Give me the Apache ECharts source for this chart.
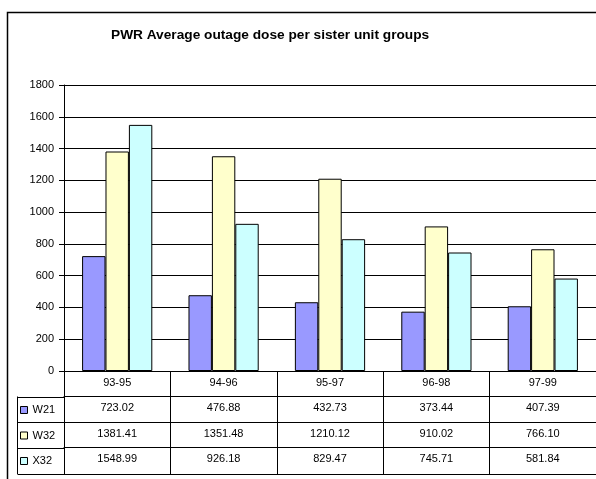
<!DOCTYPE html>
<html>
<head>
<meta charset="utf-8">
<script src="https://cdn.jsdelivr.net/npm/echarts@6/dist/echarts.min.js"></script>
<style>
html,body{margin:0;padding:0;background:#fff;}
#chart{width:596px;height:479px;}
</style>
</head>
<body>
<div id="chart"></div>
<script>
var categories = ['93-95', '94-96', '95-97', '96-98', '97-99'];
var seriesNames = ['W21', 'W32', 'X32'];
var w21 = [723.02, 476.88, 432.73, 373.44, 407.39];
var w32 = [1381.41, 1351.48, 1210.12, 910.02, 766.10];
var x32 = [1548.99, 926.18, 829.47, 745.71, 581.84];
var yTicks = [0, 200, 400, 600, 800, 1000, 1200, 1400, 1600, 1800];
var colors = ['#9999FF', '#FFFFCC', '#CCFFFF'];

var seriesData = [w21, w32, x32];
var FONT = 'Liberation Sans, Arial, sans-serif';
var LBL = 11;
var gridLeft = 64, gridTop = 85, gridW = 533, gridH = 286;
var rowH = [25.5, 25.5, 25.5, 27];
var offsets = [0, 25.5, 51, 76.5, 103];

var chart = echarts.init(document.getElementById('chart'), null, {renderer: 'canvas'});

var xAxes = [];
xAxes.push({
  type: 'category', data: categories, position: 'bottom', offset: 0,
  axisLine: {lineStyle: {color: '#000', width: 1}},
  axisTick: {show: true, length: rowH[0], lineStyle: {color: '#000', width: 1}},
  axisLabel: {color: '#000', fontSize: LBL, fontFamily: FONT, margin: 6}
});
seriesData.forEach(function (arr, k) {
  xAxes.push({
    type: 'category', data: categories, position: 'bottom', offset: offsets[k + 1],
    axisLine: {lineStyle: {color: '#000', width: 1}},
    axisTick: {show: true, length: rowH[k + 1], lineStyle: {color: '#000', width: 1}},
    axisLabel: {color: '#000', fontSize: LBL, fontFamily: FONT, margin: 6,
      formatter: function (v, i) { return arr[i].toFixed(2); }}
  });
});
xAxes.push({
  type: 'category', data: categories, position: 'bottom', offset: offsets[4],
  axisLine: {lineStyle: {color: '#000', width: 1}},
  axisTick: {show: false}, axisLabel: {show: false}
});

var legends = seriesNames.map(function (n, k) {
  return {
    data: [n], left: 20, top: gridTop + gridH + offsets[k + 1] + 8,
    itemWidth: 7, itemHeight: 7, icon: 'rect',
    textStyle: {color: '#000', fontSize: LBL, fontFamily: FONT},
    itemStyle: {borderColor: '#000', borderWidth: 1},
    selectedMode: false, padding: 0
  };
});

var tableY0 = gridTop + gridH + offsets[1];
var graphics = [
  {type: 'rect', shape: {x: 7.5, y: 12.5, width: 700, height: 600},
   style: {fill: null, stroke: '#000', lineWidth: 1.5}, z: 100},
  {type: 'line', shape: {x1: 17.5, y1: tableY0, x2: 17.5, y2: gridTop + gridH + offsets[4]},
   style: {stroke: '#000', lineWidth: 1}}
];
[1, 2, 3, 4].forEach(function (k) {
  var y = Math.round(gridTop + gridH + offsets[k]) + 0.5;
  graphics.push({type: 'line', shape: {x1: 17.5, y1: y, x2: gridLeft, y2: y},
    style: {stroke: '#000', lineWidth: 1}});
});

var option = {
  animation: false,
  backgroundColor: '#fff',
  title: {
    text: 'PWR Average outage dose per sister unit groups',
    left: 106, top: 23,
    textStyle: {fontSize: 13.7, fontWeight: 'bold', color: '#000', fontFamily: FONT}
  },
  legend: legends,
  grid: {left: gridLeft, top: gridTop, width: gridW, height: gridH, containLabel: false},
  xAxis: xAxes,
  yAxis: {
    type: 'value', min: yTicks[0], max: yTicks[yTicks.length - 1], interval: 200,
    axisLine: {show: true, lineStyle: {color: '#000', width: 1}},
    axisTick: {show: true, length: 5, lineStyle: {color: '#000'}},
    axisLabel: {color: '#000', fontSize: LBL, fontFamily: FONT, margin: 10,
      formatter: function (v) { return String(v); }},
    splitLine: {show: true, lineStyle: {color: '#000', width: 1}}
  },
  graphic: graphics,
  series: seriesNames.map(function (n, k) {
    return {
      name: n, type: 'bar', xAxisIndex: 0, data: seriesData[k],
      barGap: '0%', barCategoryGap: '34%',
      itemStyle: {color: colors[k], borderColor: '#000', borderWidth: 1}
    };
  })
};
chart.setOption(option);
</script>
</body>
</html>
